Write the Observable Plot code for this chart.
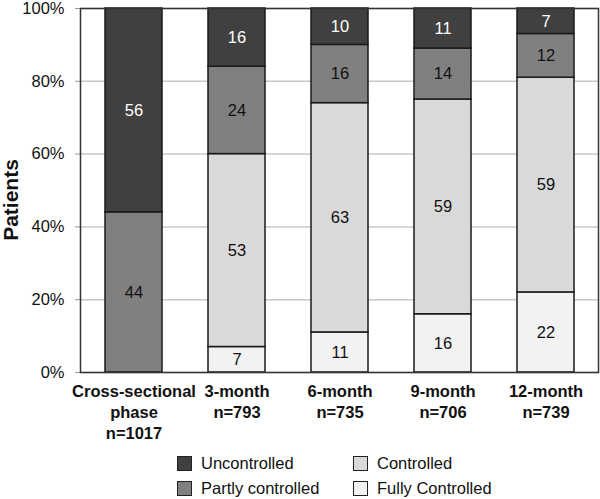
<!DOCTYPE html>
<html>
<head>
<meta charset="utf-8">
<script src="https://cdn.jsdelivr.net/npm/d3@7"></script>
<script src="https://cdn.jsdelivr.net/npm/@observablehq/plot@0.6"></script>
<style>
  body { margin: 0; background: #fff; font-family: "Liberation Sans", Arial, sans-serif; }
  #wrap { position: relative; width: 600px; height: 499px; }
  .leg { position: absolute; display: flex; align-items: center; font-size: 16.5px; color: #111; white-space: nowrap; }
  .sw { width: 13px; height: 13px; border: 1.5px solid #222; margin-right: 9px; box-sizing: content-box; }
  #ylab { position: absolute; left: 11px; top: 200px; transform: translate(-50%, -50%) rotate(-90deg); font-weight: bold; font-size: 21px; line-height: 22px; color: #111; white-space: nowrap; }
</style>
</head>
<body>
<div id="wrap"></div>
<script>
const categories = ["Cross-sectional\nphase\nn=1017", "3-month\nn=793", "6-month\nn=735", "9-month\nn=706", "12-month\nn=739"];
const levels = ["Fully Controlled", "Controlled", "Partly controlled", "Uncontrolled"];
const fullyControlled = [0, 7, 11, 16, 22];
const controlled = [0, 53, 63, 59, 59];
const partlyControlled = [44, 24, 16, 14, 12];
const uncontrolled = [56, 16, 10, 11, 7];
const yTicks = [0, 20, 40, 60, 80, 100];
const colors = ["#f2f2f2", "#d9d9d9", "#808080", "#404040"];
const legendOrder = ["Uncontrolled", "Controlled", "Partly controlled", "Fully Controlled"];
const yLabel = "Patients";

const series = [fullyControlled, controlled, partlyControlled, uncontrolled];
const data = [];
categories.forEach((c, i) => {
  levels.forEach((l, j) => {
    if (series[j][i] > 0) data.push({category: c, level: l, value: series[j][i]});
  });
});

const chart = Plot.plot({
  width: 600,
  height: 452,
  marginTop: 8,
  marginBottom: 80,
  marginLeft: 80,
  marginRight: 2,
  style: {fontFamily: "'Liberation Sans', Arial, sans-serif", fontSize: "16px", color: "#111"},
  x: {domain: categories, paddingInner: 0.45, paddingOuter: 0.225, axis: null},
  y: {domain: [0, 100], axis: null},
  color: {domain: levels, range: colors},
  marks: [
    Plot.gridY(yTicks, {stroke: "#c8c8c8", strokeOpacity: 1, strokeWidth: 1.5}),
    Plot.axisY(yTicks, {label: null, tickFormat: d => d + "%", tickSize: 5, tickPadding: 11, stroke: "#999", fontSize: 16.5, fill: "#111"}),
    Plot.barY(data, Plot.stackY({x: "category", y: "value", z: "level", order: levels, fill: "level", stroke: "#1a1a1a", strokeWidth: 1.5})),
    Plot.text(data, Plot.stackY({x: "category", y: "value", z: "level", order: levels, text: "value", fill: d => d.level === "Uncontrolled" ? "#fff" : "#111", fontSize: 16.5})),
    Plot.text(categories, {x: d => d, y: 0, text: d => d, dy: 10, lineAnchor: "top", lineHeight: 1.27, fontWeight: "bold", fontSize: 16.5, fill: "#111"}),
    Plot.frame({stroke: "#333", strokeWidth: 1.5})
  ]
});
const wrap = document.getElementById("wrap");
chart.style.display = "block";
wrap.appendChild(chart);

const yl = document.createElement("div");
yl.id = "ylab";
yl.textContent = yLabel;
wrap.appendChild(yl);

const positions = [[177, 463], [353, 463], [177, 488], [353, 488]];
legendOrder.forEach((l, i) => {
  const d = document.createElement("div");
  d.className = "leg";
  d.style.left = positions[i][0] + "px";
  d.style.top = (positions[i][1] - 10) + "px";
  d.style.height = "20px";
  const sw = document.createElement("span");
  sw.className = "sw";
  sw.style.background = colors[levels.indexOf(l)];
  d.appendChild(sw);
  d.appendChild(document.createTextNode(l));
  wrap.appendChild(d);
});
</script>
</body>
</html>
